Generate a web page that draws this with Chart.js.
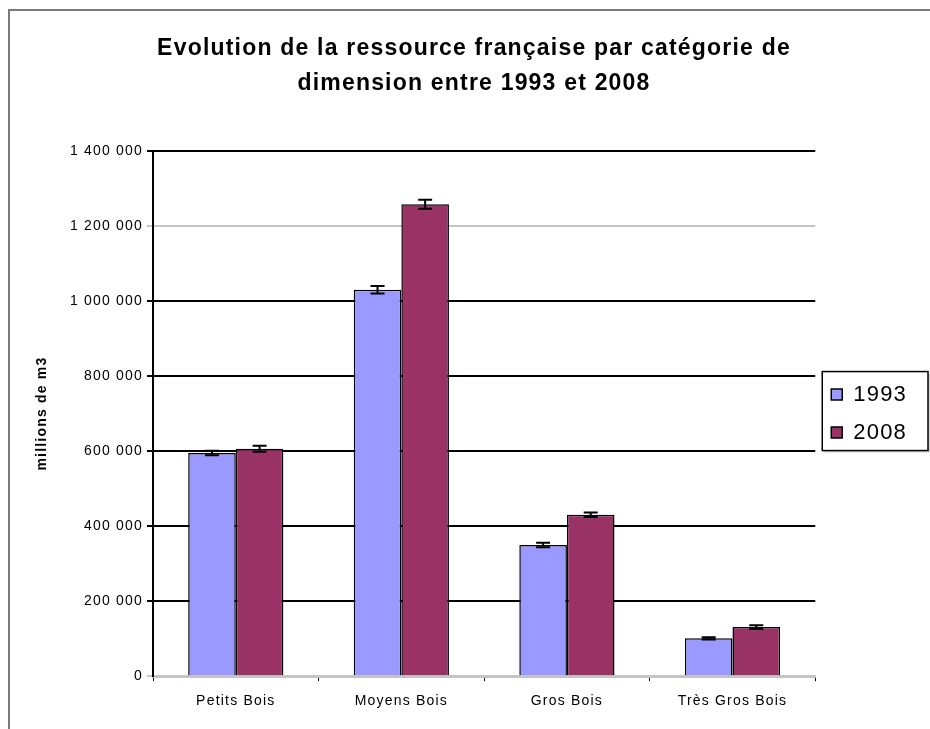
<!DOCTYPE html>
<html>
<head>
<meta charset="utf-8">
<script src="https://cdn.jsdelivr.net/npm/chart.js@4"></script>
<style>
  html, body { margin: 0; padding: 0; background: #fff; }
  #wrap { width: 930px; height: 729px; }
</style>
</head>
<body>
<div id="wrap"><canvas id="chart" width="930" height="729"></canvas></div>
<script>
const categories = ['Petits Bois', 'Moyens Bois', 'Gros Bois', 'Très Gros Bois'];
const seriesNames = ['1993', '2008'];
const values1993 = [595000, 1030000, 350000, 101000];
const values2008 = [606000, 1258000, 430000, 131000];
const errors1993 = [6000, 10000, 6000, 3000];
const errors2008 = [8000, 12000, 6000, 5000];
const yTicks = [0, 200000, 400000, 600000, 800000, 1000000, 1200000, 1400000];
const colors = ['#9999ff', '#993366'];

const FONT = "'Liberation Sans', Arial, sans-serif";

// the original text is rendered wide, so space letters out a little
const wideText = {
  id: 'wideText',
  beforeUpdate(chart) { chart.ctx.letterSpacing = '1.2px'; },
  beforeDraw(chart) { chart.ctx.letterSpacing = '1.2px'; }
};

// frame round the chart (left and top edges only are visible)
const framePlugin = {
  id: 'frame',
  beforeDraw(chart) {
    const ctx = chart.ctx;
    ctx.save();
    ctx.strokeStyle = '#7a7a7a';
    ctx.lineWidth = 2;
    ctx.beginPath();
    ctx.moveTo(9, 729);
    ctx.lineTo(9, 10);
    ctx.lineTo(930, 10);
    ctx.stroke();
    ctx.restore();
  }
};

// error bars with caps
const errorBars = {
  id: 'errorBars',
  afterDatasetsDraw(chart) {
    const ctx = chart.ctx;
    const y = chart.scales.y;
    const errs = [errors1993, errors2008];
    ctx.save();
    ctx.strokeStyle = '#000';
    ctx.lineWidth = 2;
    chart.data.datasets.forEach((ds, di) => {
      chart.getDatasetMeta(di).data.forEach((bar, i) => {
        const v = ds.data[i], e = errs[di][i];
        const top = y.getPixelForValue(v + e), bot = y.getPixelForValue(v - e);
        ctx.beginPath();
        ctx.moveTo(bar.x, top); ctx.lineTo(bar.x, bot);
        ctx.moveTo(bar.x - 7, top); ctx.lineTo(bar.x + 7, top);
        ctx.moveTo(bar.x - 7, bot); ctx.lineTo(bar.x + 7, bot);
        ctx.stroke();
      });
    });
    ctx.restore();
  }
};

// border and shadow round the legend items
const legendBox = {
  id: 'legendBox',
  beforeDraw(chart) {
    const hb = chart.legend && chart.legend.legendHitBoxes;
    if (!hb || !hb.length) return;
    const last = hb[hb.length - 1];
    const x = hb[0].left - 9, top = hb[0].top - 12;
    const w = 928 - x, h = last.top + last.height + 7 - top;
    const ctx = chart.ctx;
    ctx.save();
    ctx.fillStyle = '#d4d4d4';
    ctx.fillRect(x + 2, top + 2, w, h);
    ctx.fillStyle = '#fff';
    ctx.fillRect(x, top, w, h);
    ctx.strokeStyle = '#000';
    ctx.lineWidth = 1.5;
    ctx.strokeRect(x, top, w, h);
    ctx.restore();
  }
};

new Chart(document.getElementById('chart'), {
  type: 'bar',
  data: {
    labels: categories,
    datasets: [
      { label: seriesNames[0], data: values1993, backgroundColor: colors[0] },
      { label: seriesNames[1], data: values2008, backgroundColor: colors[1] }
    ]
  },
  options: {
    responsive: false,
    animation: false,
    devicePixelRatio: 1,
    layout: { padding: { left: 31, right: 13, top: 18, bottom: 7 } },
    datasets: {
      bar: { borderColor: '#000', borderWidth: 1.5, categoryPercentage: 0.575, barPercentage: 1 }
    },
    plugins: {
      tooltip: { enabled: false },
      legend: {
        position: 'right',
        fullSize: false,
        labels: {
          color: '#000',
          boxWidth: 11,
          boxHeight: 11,
          padding: 16,
          font: { family: FONT, size: 22 }
        }
      },
      title: {
        display: true,
        text: ['Evolution de la ressource française par catégorie de', 'dimension entre 1993 et 2008'],
        color: '#000',
        font: { family: FONT, size: 23, weight: 'bold', lineHeight: 1.52 },
        padding: { top: 13, bottom: 50 }
      }
    },
    scales: {
      x: {
        grid: { display: true, drawOnChartArea: false, color: '#000', tickLength: 5, lineWidth: 1 },
        border: { color: '#c4c4c4', width: 3 },
        ticks: { color: '#000', font: { family: FONT, size: 14 }, padding: 12 }
      },
      y: {
        min: 0,
        max: 1400000,
        afterBuildTicks(scale) { scale.ticks = yTicks.map(v => ({ value: v })); },
        afterFit(scale) { scale.width = 122; },
        grid: {
          color: c => (c.tick && (c.tick.value === 1200000 || c.tick.value === 0)) ? '#c4c4c4' : '#000',
          lineWidth: 2,
          tickLength: 6
        },
        border: { color: '#000', width: 2 },
        ticks: {
          color: '#000',
          padding: 4,
          font: { family: FONT, size: 14 },
          callback: v => v.toLocaleString('fr-FR').replace(/\s/g, ' ')
        },
        title: {
          display: true,
          text: 'millions de m3',
          color: '#000',
          font: { family: FONT, size: 14, weight: 'bold' },
          padding: { top: 3, bottom: 0 }
        }
      }
    }
  },
  plugins: [wideText, framePlugin, legendBox, errorBars]
});
</script>
</body>
</html>
